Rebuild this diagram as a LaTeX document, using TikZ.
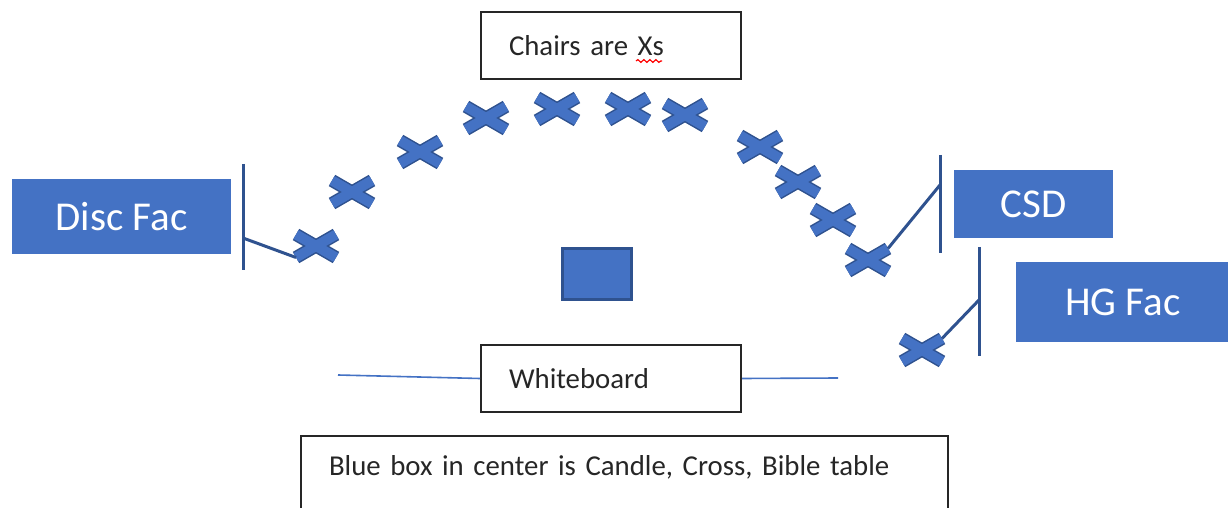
\documentclass[tikz,border=0pt]{standalone}
\usepackage{fontspec}
\setmainfont{Carlito}
\usetikzlibrary{shapes.misc,positioning,decorations.pathmorphing}
\definecolor{msblue}{HTML}{4472C4}
\definecolor{msdark}{HTML}{2F528F}
\definecolor{inkgray}{HTML}{262626}
\begin{document}
\begin{tikzpicture}[x=0.5pt,y=-0.5pt]
\tikzstyle{chair}=[cross out, draw=msblue, line width=5pt,
inner sep=0pt, outer sep=0pt,
minimum width=20pt, minimum height=11.5pt,
preaction={draw=msdark, line width=6.5pt}]
\tikzstyle{sign}=[rectangle, fill=msblue, text=white, inner sep=0pt,
font=\fontsize{20.5}{24}\selectfont]
\tikzstyle{note}=[rectangle, draw=inkgray, line width=1pt, text=inkgray,
align=left, text width=102pt, inner xsep=14pt, inner ysep=0pt,
minimum height=33.5pt, font=\fontsize{14.4}{17}\selectfont]
\tikzstyle{wall}=[draw=msdark, line width=1.5pt]
\tikzstyle{board}=[draw=msblue, line width=0.8pt]

\useasboundingbox (0,0) rectangle (1228,508);
\clip (0,0) rectangle (1228,508);

% boxes with text
\node[note] at (611,45.5) (legend) {Chairs are Xs};
\node[note] at (611,378.5) (wb) {Whiteboard};
\node[note, anchor=north west, text width=295.5pt, inner ysep=10pt,
minimum height=0pt, text depth=40pt] at (300,435) (table) {Blue box in center is Candle, Cross, Bible table};
\draw[red, line width=0.6pt, decorate,
decoration={snake, amplitude=0.7pt, segment length=3pt}] (636,61) -- (662,61);

% people
\node[sign, minimum width=109.5pt, minimum height=37.5pt] at (121.5,216.5) (disc) {Disc Fac};
\node[sign, minimum width=79.5pt, minimum height=34pt] at (1033.5,204) (csd) {CSD};
\node[sign, minimum width=107pt, minimum height=40pt] at (1123,302) (hg) {HG Fac};

% candle, cross, bible table
\node[rectangle, fill=msblue, draw=msdark, line width=1.5pt,
minimum width=34.5pt, minimum height=25.5pt] at (597,274) (altar) {};

% chairs
\node[chair] at (316,246) (c1) {};
\node[chair] at (352,192) (c2) {};
\node[chair] at (420,152) (c3) {};
\node[chair] at (486,118) (c4) {};
\node[chair] at (557,109) (c5) {};
\node[chair] at (628,109) (c6) {};
\node[chair] at (685,115) (c7) {};
\node[chair] at (760,147) (c8) {};
\node[chair] at (798,182) (c9) {};
\node[chair] at (833,220) (c10) {};
\node[chair] at (868,260) (c11) {};
\node[chair] at (922,350) (c12) {};

% stands beside the signs
\coordinate (dtop) at (243,164);
\coordinate (dbot) at (243,270);
\coordinate (dmid) at (243,238);
\coordinate (ctop) at (940,155);
\coordinate (cbot) at (940,253);
\coordinate (cmid) at (940,185);
\coordinate (htop) at (979,247);
\coordinate (hbot) at (979,356);
\coordinate (hmid) at (979,300);
\path[wall] (dtop) edge (dbot);
\path[wall] (ctop) edge (cbot);
\path[wall] (htop) edge (hbot);
\path[wall] (dmid) edge (c1.south west);
\path[wall] (cmid) edge (c11.north east);
\path[wall] (hmid) edge (c12.north east);

% whiteboard wall
\coordinate (wbl) at (338,375);
\coordinate (wbr) at (838,378);
\path[board] (wbl) edge (wb.west);
\path[board] (wb.east) edge (wbr);

\end{tikzpicture}
\end{document}
